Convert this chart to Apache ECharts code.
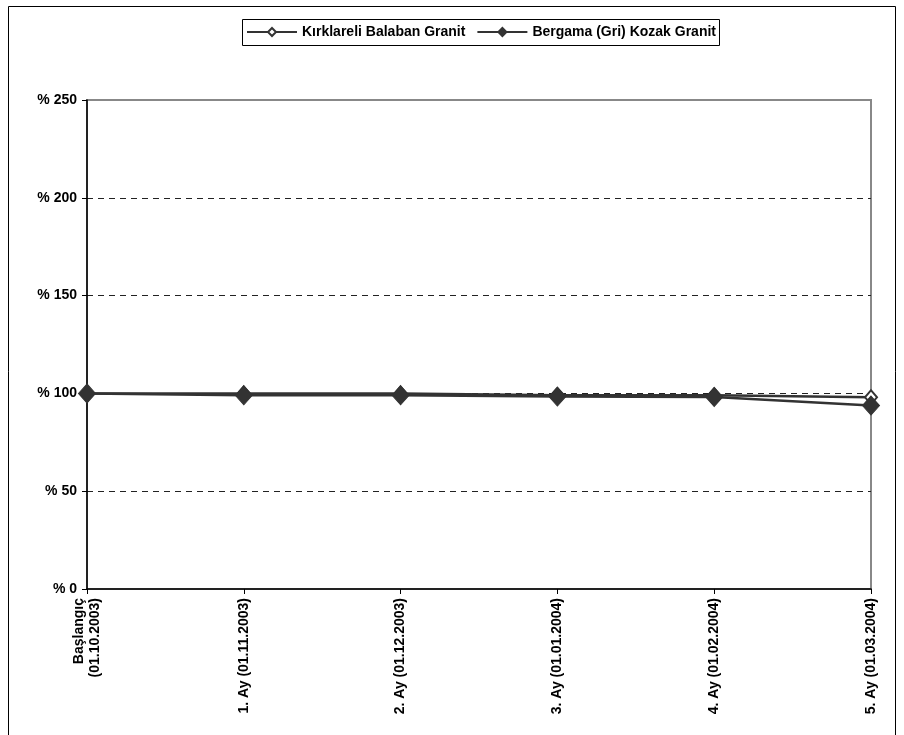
<!DOCTYPE html>
<html><head><meta charset="utf-8">
<script src="https://cdn.jsdelivr.net/npm/echarts@6/dist/echarts.min.js"></script>
<style>html,body{margin:0;padding:0;background:#fff}#c{width:904px;height:735px}</style>
</head><body><div id="c"></div>
<script>
const categories = ['Başlangıç\n(01.10.2003)', '1. Ay (01.11.2003)', '2. Ay (01.12.2003)', '3. Ay (01.01.2004)', '4. Ay (01.02.2004)', '5. Ay (01.03.2004)'];
const kirklareli = [100, 100, 100, 99, 99, 98];
const bergama = [100, 99, 99, 98.4, 98.2, 93.8];
const seriesNames = ['Kırklareli Balaban Granit', 'Bergama (Gri) Kozak Granit'];
const yTicks = [0, 50, 100, 150, 200, 250];

const FONT = '"Liberation Sans", Arial, sans-serif';
const chart = echarts.init(document.getElementById('c'), null, {renderer: 'canvas'});
chart.setOption({
  animation: false,
  backgroundColor: '#fff',
  graphic: [
    {type: 'rect', shape: {x: 8.5, y: 6.5, width: 887, height: 740}, style: {fill: 'none', stroke: '#000', lineWidth: 1}, z: -10},
    {type: 'rect', shape: {x: 242.5, y: 19.5, width: 477, height: 26}, style: {fill: '#fff', stroke: '#000', lineWidth: 1}, z: -5}
  ],
  legend: {
    left: 246, top: 25, padding: 0, itemGap: 11,
    itemWidth: 50, itemHeight: 10,
    textStyle: {fontFamily: FONT, fontWeight: 'bold', fontSize: 14, color: '#000'},
    data: seriesNames
  },
  grid: {left: 87, right: 33, top: 100, bottom: 146, show: true, borderColor: '#888', borderWidth: 2, backgroundColor: 'transparent'},
  xAxis: {
    type: 'category', data: categories, boundaryGap: false,
    axisLine: {lineStyle: {color: '#000', width: 1.5}},
    axisTick: {show: true, alignWithLabel: true, length: 5, lineStyle: {color: '#000'}},
    axisLabel: {rotate: 90, interval: 0, margin: 9, fontFamily: FONT, fontWeight: 'bold', fontSize: 14, color: '#000', lineHeight: 16},
    splitLine: {show: false}
  },
  yAxis: {
    type: 'value', min: 0, max: 250, interval: 50,
    axisLine: {show: true, lineStyle: {color: '#000', width: 1.5}},
    axisTick: {show: true, length: 5, lineStyle: {color: '#000'}},
    axisLabel: {margin: 10, fontFamily: FONT, fontWeight: 'bold', fontSize: 14, color: '#000',
      formatter: v => yTicks.includes(v) ? '% ' + v : ''},
    splitLine: {show: true, showMinLine: false, showMaxLine: false, lineStyle: {color: '#222', type: [6, 5], width: 1}}
  },
  series: [
    {name: seriesNames[0], type: 'line', data: kirklareli, symbol: 'diamond', symbolSize: [12, 14],
      lineStyle: {color: '#333', width: 2.5}, itemStyle: {color: '#fff', borderColor: '#333', borderWidth: 2}, z: 3},
    {name: seriesNames[1], type: 'line', data: bergama, symbol: 'diamond', symbolSize: [17, 19],
      lineStyle: {color: '#333', width: 2.5}, itemStyle: {color: '#333', borderColor: '#333', borderWidth: 1}, z: 4}
  ]
});
</script></body></html>
